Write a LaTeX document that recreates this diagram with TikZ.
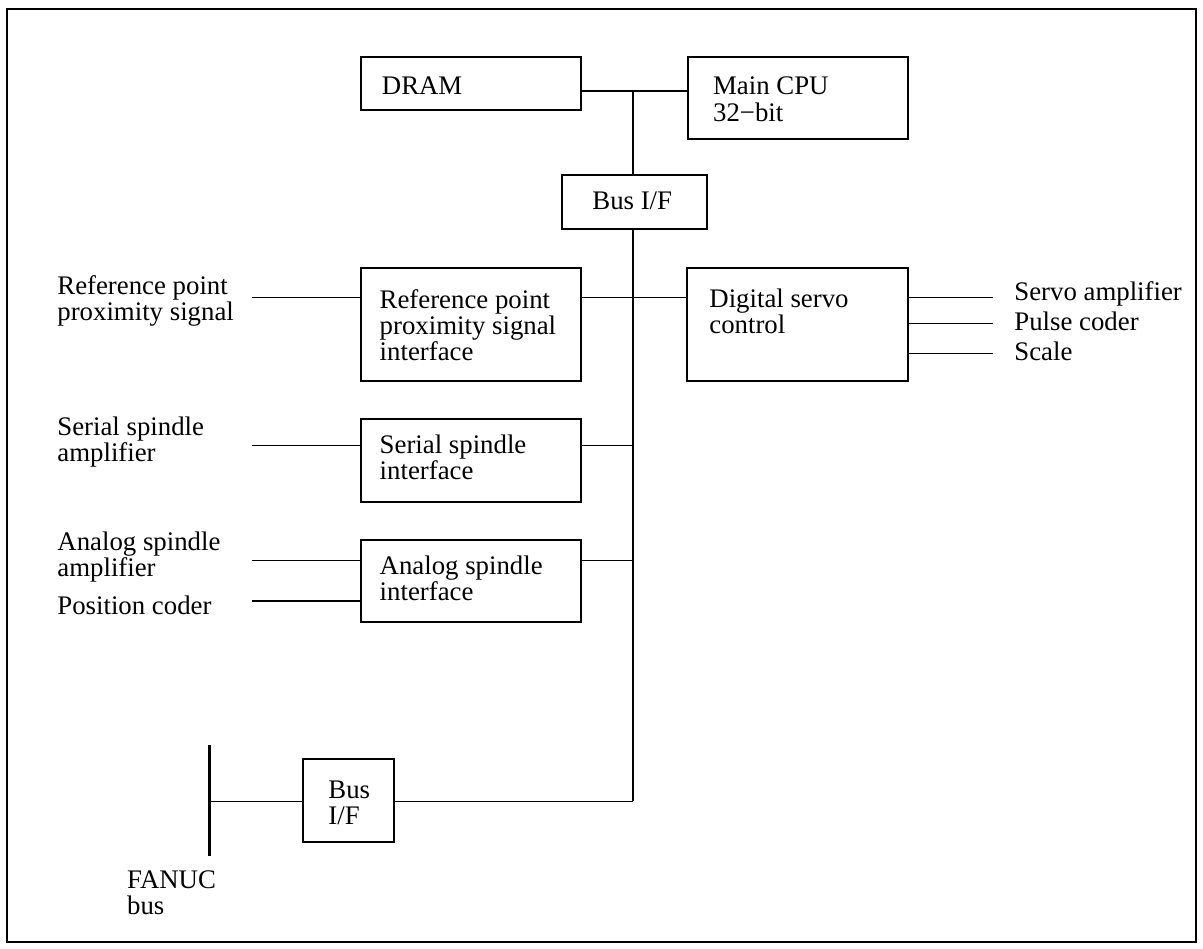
\documentclass[tikz,border=0pt]{standalone}
\usepackage{fontspec}
\setmainfont{Liberation Serif}
\usetikzlibrary{fit}
\begin{document}
\begin{tikzpicture}[x=0.5pt,y=-0.5pt,
  box/.style={draw, line width=0.6pt, inner sep=0pt},
  wire/.style={line width=0.6pt},
  busline/.style={line width=1.35pt},
  framestyle/.style={line width=1.4pt},
  txt/.style={anchor=base west, inner sep=0pt, align=left, font=\fontsize{13.4}{13}\selectfont},
]
\useasboundingbox (0,0) rectangle (1203,948);
\draw[framestyle] (7,9) rectangle (1196,942);

% boxes
\node[box, fit={(361,57) (581,110)}] (dram) {};
\node[box, fit={(688,57) (908,139)}] (cpu) {};
\node[box, fit={(562,175) (707,229)}] (busif) {};
\node[box, fit={(361,268) (581,381)}] (ref) {};
\node[box, fit={(687,268) (908,381)}] (dsc) {};
\node[box, fit={(361,419) (581,502)}] (ser) {};
\node[box, fit={(361,540) (581,622)}] (ana) {};
\node[box, fit={(303,759) (394,842)}] (busiftwo) {};

% box texts (anchor = baseline of the last line)
\node[txt] (tdram) at (381.5,94.3) {DRAM};
\node[txt] (tcpu) at (712.7,121) {Main CPU\\[0.4pt]32−bit};
\node[txt] (tbusif) at (592,209) {Bus I/F};
\node[txt] (tref) at (379.3,360) {Reference point\\proximity signal\\interface};
\node[txt] (tdsc) at (709,333.3) {Digital servo\\control};
\node[txt] (tser) at (379.3,479) {Serial spindle\\interface};
\node[txt] (tana) at (379.3,600) {Analog spindle\\interface};
\node[txt] (tbusiftwo) at (328,824) {Bus\\I/F};

% outside labels
\node[txt] (lref) at (57,320.7) {Reference point\\proximity signal};
\node[txt] (lser) at (57,461.7) {Serial spindle\\amplifier};
\node[txt] (lana) at (57,576.7) {Analog spindle\\amplifier};
\node[txt] (lpos) at (57,614.3) {Position coder};
\node[txt] (lsa) at (1014,300.7) {Servo amplifier};
\node[txt] (lpc) at (1014,330.7) {Pulse coder};
\node[txt] (lsc) at (1014,360) {Scale};
\node[txt] (lfanuc) at (126.7,914.3) {FANUC\\bus};

% main bus
\coordinate (btop) at (633,91);
\coordinate (bbot) at (633,801.3);
\draw[wire] (btop -| dram.east) -- (btop -| cpu.west);
\draw[busline] (btop) -- (btop |- busif.north);
\draw[busline] (btop |- busif.south) -- (bbot);

% reference point
\coordinate (refin) at (252,297.3);
\draw[wire] (refin) -- (refin -| ref.west);
\draw[wire] (refin -| ref.east) -- (refin -| dsc.west);

% serial spindle
\coordinate (serin) at (252,445.7);
\draw[wire] (serin) -- (serin -| ser.west);
\draw[wire] (serin -| ser.east) -- (serin -| btop);

% analog spindle
\coordinate (anaina) at (252,560.7);
\coordinate (anainb) at (252,601);
\draw[wire] (anaina) -- (anaina -| ana.west);
\draw[wire] (anainb) -- (anainb -| ana.west);
\draw[wire] (anaina -| ana.east) -- (anaina -| btop);

% servo outputs
\coordinate (outa) at (993,297.3);
\coordinate (outb) at (993,323.3);
\coordinate (outc) at (993,353.3);
\draw[wire] (outa -| dsc.east) -- (outa);
\draw[wire] (outb -| dsc.east) -- (outb);
\draw[wire] (outc -| dsc.east) -- (outc);

% FANUC bus
\coordinate (ftop) at (209.7,745);
\coordinate (fbot) at (209.7,855.7);
\coordinate (fj) at (209.7,801.3);
\draw[busline] (ftop) -- (fbot);
\draw[wire] (fj) -- (fj -| busiftwo.west);
\draw[wire] (fj -| busiftwo.east) -- (bbot);
\end{tikzpicture}
\end{document}
